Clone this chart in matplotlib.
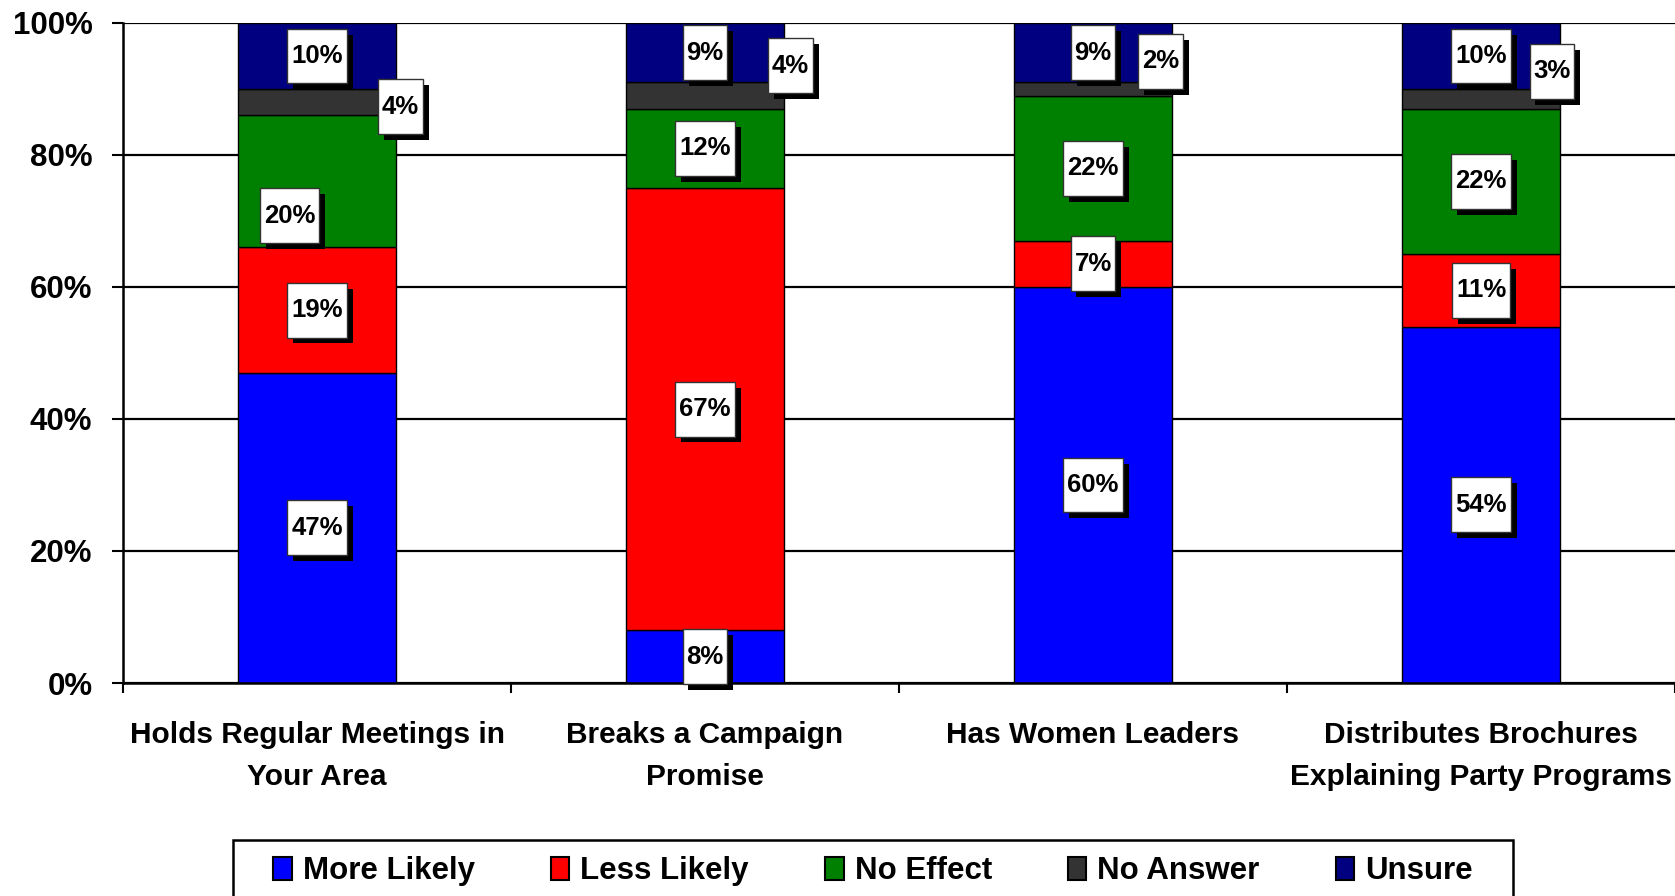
import numpy as np
import matplotlib
matplotlib.use("Agg")
import matplotlib.pyplot as plt
from matplotlib import font_manager, patheffects
from matplotlib.patches import Patch, Rectangle
from matplotlib.path import Path
from matplotlib.ticker import PercentFormatter

categories = ["Holds Regular Meetings in\nYour Area",
              "Breaks a Campaign\nPromise",
              "Has Women Leaders",
              "Distributes Brochures\nExplaining Party Programs"]
series_names = ["More Likely", "Less Likely", "No Effect", "No Answer", "Unsure"]
more_likely = [47, 8, 60, 54]
less_likely = [19, 67, 7, 11]
no_effect = [20, 12, 22, 22]
no_answer = [4, 4, 2, 3]
unsure = [10, 9, 9, 10]

colors = ["#0000ff", "#ff0000", "#008000", "#333333", "#000080"]

# the original moved the little "No Answer" boxes off to the bar's right edge
na_dx = [0.215, 0.22, 0.175, 0.183]
na_y = [87.3, 93.5, 94.2, 92.7]
# one more hand-nudged box (bar, series) -> (dx, dy)
nudges = {(0, 2): (-0.07, -5.2)}

installed = {f.name for f in font_manager.fontManager.ttflist}
base_font = "Liberation Sans" if "Liberation Sans" in installed else "DejaVu Sans"
narrow = "Liberation Sans Narrow" if "Liberation Sans Narrow" in installed else base_font
label_size = 21 if narrow != base_font else 18.5
plt.rcParams["font.family"] = base_font
plt.rcParams["font.weight"] = "bold"


def label_box(x0, y0, width, height, mutation_size):
    # plain rectangle, thin sideways padding, tall vertical padding
    px, py = 0.15 * mutation_size, 0.6 * mutation_size
    x0, y0 = x0 - px, y0 - py
    x1, y1 = x0 + width + 2 * px, y0 + height + 2 * py
    return Path([(x0, y0), (x1, y0), (x1, y1), (x0, y1), (x0, y0)], closed=True)


fig = plt.figure(figsize=(16.75, 8.96), dpi=100)
ax = fig.add_axes([123 / 1675, 1 - 683 / 896, 1 - 123 / 1675, 660 / 896])

x = np.arange(len(categories))
width = 0.405
series = [more_likely, less_likely, no_effect, no_answer, unsure]
bottom = np.zeros(len(categories))
for name, vals, c in zip(series_names, series, colors):
    ax.bar(x, vals, width, bottom=bottom, color=c, edgecolor="black", linewidth=1.0,
           label=name, zorder=2)
    bottom += np.array(vals)

# value boxes
shadow = [patheffects.SimplePatchShadow(offset=(4.3, -4.3), shadow_rgbFace="black", alpha=1.0),
          patheffects.Normal()]
for i in range(len(categories)):
    base = 0
    for s, vals in enumerate(series):
        v = vals[i]
        cx, cy = x[i], base + v / 2
        if s == 3:
            cx, cy = x[i] + na_dx[i], na_y[i]
        if (i, s) in nudges:
            cx += nudges[(i, s)][0]
            cy += nudges[(i, s)][1]
        t = ax.text(cx, cy, f"{v}%", ha="center", va="center", fontsize=label_size,
                    family=narrow, fontweight="bold", zorder=5,
                    bbox=dict(boxstyle=label_box, facecolor="white", edgecolor="#333333",
                              linewidth=1.0))
        t.get_bbox_patch().set_path_effects(shadow)
        base += v

ax.set_xlim(-0.5, len(categories) - 0.5)
ax.set_ylim(0, 100)
ax.set_yticks(range(0, 101, 20))
ax.yaxis.set_major_formatter(PercentFormatter(xmax=100, decimals=0))
ax.tick_params(axis="y", direction="out", length=8, width=1.5, pad=14, labelsize=22.5)
ax.set_xticks(x)
ax.set_xticklabels(categories, fontsize=21.5, linespacing=1.65)
ax.tick_params(axis="x", which="major", length=0, pad=27)
ax.set_xticks(np.arange(-0.5, len(categories), 1), minor=True)
ax.tick_params(axis="x", which="minor", direction="out", length=7, width=1.5)

ax.yaxis.grid(True, color="black", linewidth=1.6, zorder=0)
ax.set_axisbelow(True)
for side in ["top", "right"]:
    ax.spines[side].set_visible(False)
for side in ["left", "bottom"]:
    ax.spines[side].set_linewidth(1.8)

# legend frame runs off the bottom of the picture, with wide side margins
fig.add_artist(Rectangle((233 / 1675, -0.05), (1513 - 233) / 1675, 0.05 + 1 - 840 / 896,
                         transform=fig.transFigure, facecolor="white", edgecolor="black",
                         linewidth=1.8, zorder=1))
handles = [Patch(facecolor=c, edgecolor="black", linewidth=1.5, label=n)
           for n, c in zip(series_names, colors)]
leg = fig.legend(handles=handles, loc="upper left", ncol=5, mode="expand",
                 bbox_to_anchor=(259 / 1675, 1 - 842 / 896, (1487 - 259) / 1675, 0),
                 borderaxespad=0, borderpad=0.45, fontsize=22.5, handlelength=0.6,
                 handleheight=0.75, handletextpad=0.35, frameon=False)
leg.set_zorder(2)

fig.savefig("out.png", dpi=100)
